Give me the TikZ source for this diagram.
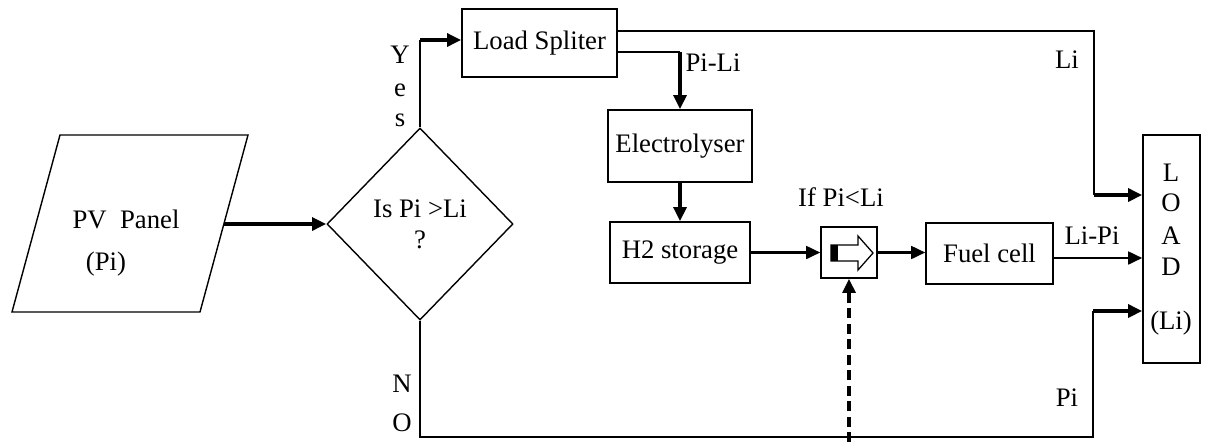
\documentclass[tikz,border=0pt]{standalone}
\usepackage{fontspec}
\setmainfont{Liberation Serif}
\usetikzlibrary{shapes.geometric, arrows.meta, positioning, calc}

\tikzset{
  thinline/.style={line width=1pt},
  blockbox/.style={draw, line width=1pt, inner sep=0pt},
  fatarrow/.style={-{Triangle[length=10pt,width=9pt]}, line width=3.2pt},
  midarrow/.style={-{Triangle[length=10pt,width=9pt]}, line width=1.9pt},
}

\begin{document}
\begin{tikzpicture}[x=0.025cm, y=-0.025cm, every node/.style={font=\fontsize{19}{22}\selectfont}]
  \useasboundingbox (0,0) rectangle (1220,442);
  % PV panel (parallelogram)
  \draw[thinline] (12,312) -- (60,135) -- (248,135) -- (200,312) -- cycle;
  \coordinate (pvout) at (224,224);
  \node (pvname) at (126,219) {PV\ \ Panel};
  \node (pvval) at (106,264) {(Pi)};
  % decision
  \node[diamond, draw, thinline, minimum width=4.65cm, minimum height=4.8cm, inner sep=0pt, align=center] (dec) at (420,224) {Is Pi\ {>}Li\\?};
  % boxes
  \node[blockbox, minimum width=3.875cm, minimum height=1.7cm] (split) at (539.5,43) {Load Spliter};
  \node[blockbox, minimum width=3.6cm, minimum height=1.8cm] (elec) at (680,146) {Electrolyser};
  \node[blockbox, minimum width=3.5cm, minimum height=1.525cm] (htwo) at (680,252.5) {H2 storage};
  \node[blockbox, minimum width=1.4cm, minimum height=1.275cm] (sw) at (849,252.5) {};
  \node[blockbox, minimum width=3.175cm, minimum height=1.525cm] (fuel) at (989.5,253.5) {Fuel cell};
  \node[blockbox, minimum width=1.425cm, minimum height=5.7cm] (load) at (1171.5,249) {};
  % switch symbol
  \draw[line width=0.9pt] (831,245) -- (858,245) -- (858,236) -- (873,253) -- (858,270) -- (858,261) -- (831,261) -- cycle;
  \fill (831,245) rectangle (838,261);
  % LOAD letters
  \foreach \ch/\yy in {L/173, O/203, A/236, D/267}
    \node (load\ch) at (1171,\yy) {\ch};
  \node (loadval) at (1171,323) {(Li)};
  % yes / no letters
  \foreach \ch/\yy in {Y/55, e/90, s/120}
    \node (yes\ch) at (400,\yy) {\ch};
  \node (noN) at (402,384) {N};
  \node (noO) at (402,423) {O};
  % labels
  \node (pili) at (713,63) {Pi-Li};
  \node (lilbl) at (1067,60) {Li};
  \node (lipi) at (1092,236) {Li-Pi};
  \node (pilbl) at (1067,398) {Pi};
  \node (iflbl) at (841,197) {If Pi<Li};
  % corners
  \coordinate (yescorner) at (420,40);
  \coordinate (licorner) at (1094,31);
  \coordinate (lidown) at (1094,195);
  \coordinate (pilicorner) at (680,52);
  \coordinate (fuelrow) at (1053,258);
  \coordinate (nocorner) at (420,437);
  \coordinate (picorner) at (1093,437);
  \coordinate (piup) at (1093,311);
  \coordinate (ctrl) at (849,442);
  % connectors
  \draw[fatarrow] (pvout) -- (dec.west);
  \draw[thinline] (dec.north) -- (yescorner);
  \draw[fatarrow] (yescorner) -- (yescorner -| split.west);
  \draw[thinline] (split.east |- licorner) -- (licorner) -- (lidown);
  \draw[fatarrow] (lidown) -- (lidown -| load.west);
  \draw[thinline] (split.east |- pilicorner) -- (pilicorner);
  \draw[fatarrow] (pilicorner) -- (elec.north);
  \draw[fatarrow] (elec.south) -- (htwo.north);
  \draw[midarrow] (htwo.east) -- (sw.west);
  \draw[midarrow] (sw.east) -- (fuel.west |- sw.east);
  \draw[midarrow] (fuelrow) -- (load.west |- fuelrow);
  \draw[thinline] (dec.south) -- (nocorner) -- (picorner) -- (piup);
  \draw[fatarrow] (piup) -- (piup -| load.west);
  \draw[fatarrow, line width=2.8pt, dash pattern=on 7pt off 4pt] (ctrl) -- (sw.south);
\end{tikzpicture}
\end{document}
